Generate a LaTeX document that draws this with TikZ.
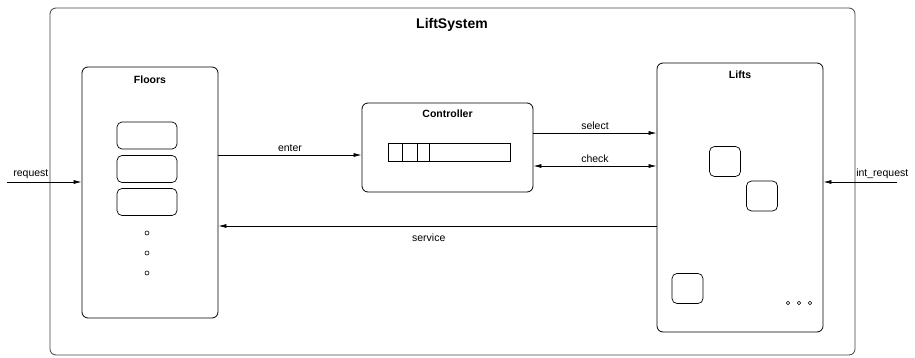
\documentclass[tikz,border=0pt]{standalone}
\usepackage{fontspec}
\setmainfont{Liberation Sans}
\usetikzlibrary{arrows.meta}

\tikzset{
    box/.style={draw, rounded corners=6pt, inner sep=0pt, line width=0.8pt},
    cell/.style={draw, rounded corners=5pt, inner sep=0pt, line width=0.7pt,
        minimum width=31pt, minimum height=30pt},
    dot/.style={draw, circle, inner sep=0pt, minimum size=4pt, line width=0.6pt},
    title/.style={font=\bfseries\fontsize{10.5}{12}\selectfont},
    lbl/.style={font=\fontsize{10.5}{12}\selectfont},
    arr/.style={-{Latex[length=8pt,width=4pt]}, line width=0.7pt},
}

\begin{document}
\begin{tikzpicture}[x=1pt, y=-1pt]
    \useasboundingbox (0, 0) rectangle (915, 358);

    % the whole system
    \node [box, draw=black!75, minimum width=805pt, minimum height=347pt] (system) at (452.5, 181.5) {};
    \node [title, font=\bfseries\fontsize{14}{16}\selectfont] (systemtitle) at (452, 25) {LiftSystem};

    % floors
    \node [box, minimum width=136pt, minimum height=251pt] (floors) at (150, 192.5) {};
    \node [title] (floorstitle) at (150, 80) {Floors};
    \node [cell, minimum width=60pt, minimum height=27pt] (floor1) at (147, 135.5) {};
    \node [cell, minimum width=60pt, minimum height=27pt] (floor2) at (147, 169) {};
    \node [cell, minimum width=60pt, minimum height=27pt] (floor3) at (147, 202) {};
    \foreach \y in {233, 253, 273}
        \node [dot] at (147, \y) {};

    % controller
    \node [box, minimum width=171pt, minimum height=89pt] (controller) at (447.5, 147.5) {};
    \node [title] (controllertitle) at (447.5, 114) {Controller};
    \node [draw, line width=0.6pt, inner sep=0pt, minimum width=122pt, minimum height=18pt] (queue) at (449, 152) {};
    \foreach \x in {402, 417, 429}
        \draw [line width=0.6pt] (\x, 143) -- (\x, 161);

    % lifts
    \node [box, minimum width=166pt, minimum height=269pt] (lifts) at (740, 197.5) {};
    \node [title] (liftstitle) at (740, 75) {Lifts};
    \node [cell] (lift1) at (725, 161.5) {};
    \node [cell] (lift2) at (762, 196) {};
    \node [cell] (lift3) at (687.5, 288.5) {};
    \foreach \x in {788, 799, 810}
        \node [dot, minimum size=3.6pt] at (\x, 303) {};

    % connectors
    \coordinate (reqin) at (7, 182);
    \coordinate (intin) at (897, 182);
    \draw [arr] (reqin) -- node [lbl, above, pos=0.32] {request} (floors.west |- reqin);
    \draw [arr] (intin) -- node [lbl, above, pos=0.2] {int\_request} (lifts.east |- intin);
    \draw [arr] (floors.east |- 0, 155) -- node [lbl, above] {enter} (controller.west |- 0, 155);
    \draw [arr] (controller.east |- 0, 133) -- node [lbl, above] {select} (lifts.west |- 0, 133);
    \draw [arr, {Latex[length=8pt,width=4pt]}-{Latex[length=8pt,width=4pt]}] (controller.east |- 0, 166) -- node [lbl, above] {check} (lifts.west |- 0, 166);
    \draw [arr] (lifts.west |- 0, 226) -- node [lbl, below=4pt, pos=0.52] {service} (floors.east |- 0, 226);
\end{tikzpicture}
\end{document}
